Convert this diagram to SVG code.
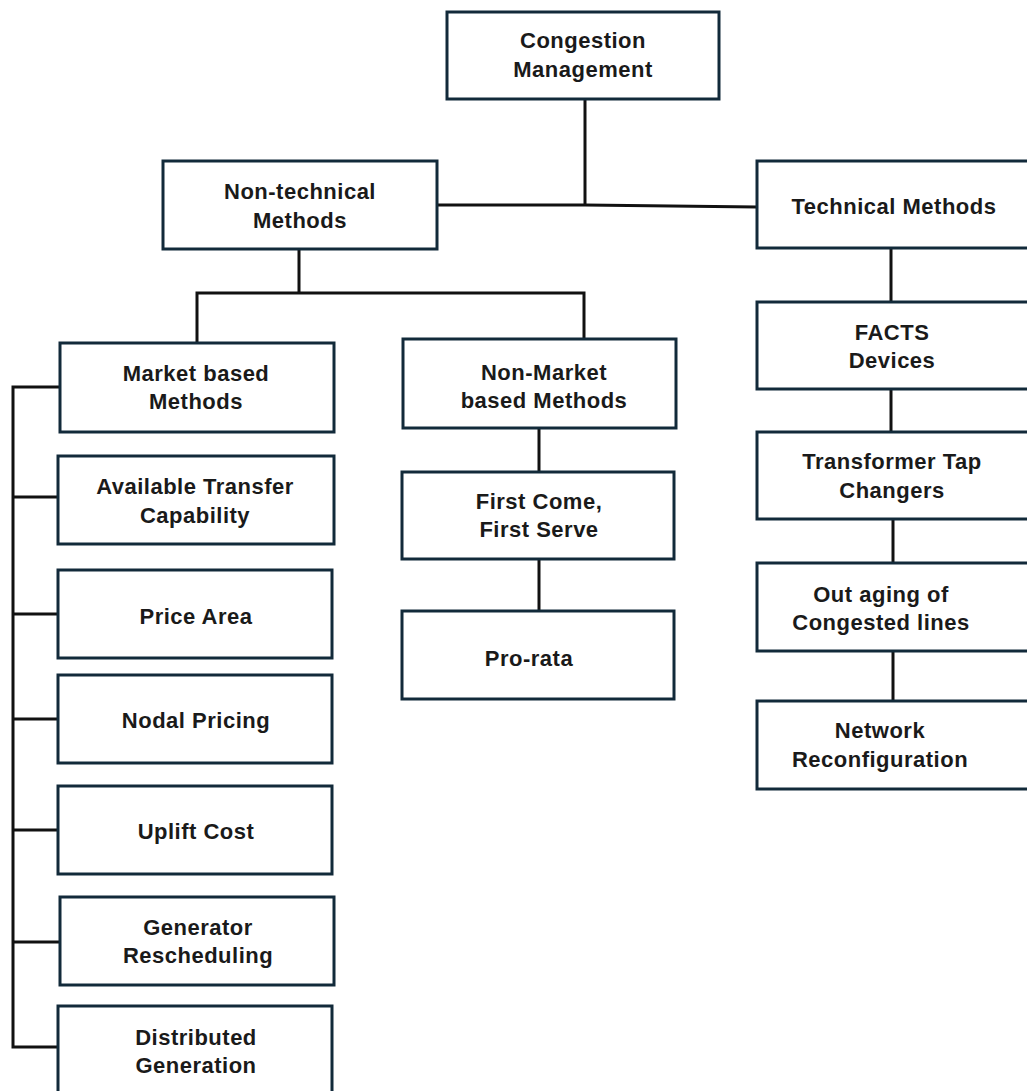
<svg xmlns="http://www.w3.org/2000/svg" width="1027" height="1091" viewBox="0 0 1027 1091">
  <style>
    .box { fill: #ffffff; stroke: #122a3a; stroke-width: 3; }
    .lbl { font-family: "Liberation Sans", Arial, sans-serif; font-weight: bold; font-size: 22px; letter-spacing: 0.5px; fill: #1a1a1a; text-anchor: middle; }
    .wire { fill: none; stroke: #111111; stroke-width: 3; stroke-linejoin: miter; }
  </style>
  <rect width="1027" height="1091" fill="#ffffff"/>

  <!-- connectors -->
  <g id="connectors" class="wire">
    <path d="M585,99 V205"/>
    <path d="M437,205 L585,205 L757,207"/>
    <path d="M299,249 V293 M197,343 V293 H584 V339"/>
    <path d="M539,428 V472"/>
    <path d="M539,559 V611"/>
    <path d="M891,248 V302"/>
    <path d="M891,389 V432"/>
    <path d="M893,519 V563"/>
    <path d="M893,651 V701"/>
    <path d="M60,387 H13 V1047 H58"/>
    <path d="M13,497 H58 M13,614 H58 M13,719 H58 M13,830 H58 M13,942 H60"/>
  </g>

  <!-- root -->
  <g id="congestion-management">
    <rect class="box" x="447" y="12" width="272" height="87"/>
    <text class="lbl" x="583" y="48">Congestion</text>
    <text class="lbl" x="583" y="77">Management</text>
  </g>

  <!-- main branches -->
  <g id="non-technical-methods">
    <rect class="box" x="163" y="161" width="274" height="88"/>
    <text class="lbl" x="300" y="199">Non-technical</text>
    <text class="lbl" x="300" y="228">Methods</text>
  </g>
  <g id="technical-methods">
    <rect class="box" x="757" y="161" width="290" height="87"/>
    <text class="lbl" x="894" y="214">Technical Methods</text>
  </g>

  <!-- non-technical sub branches -->
  <g id="market-based-methods">
    <rect class="box" x="60" y="343" width="274" height="89"/>
    <text class="lbl" x="196" y="381">Market based</text>
    <text class="lbl" x="196" y="409">Methods</text>
  </g>
  <g id="non-market-based-methods">
    <rect class="box" x="403" y="339" width="273" height="89"/>
    <text class="lbl" x="544" y="380">Non-Market</text>
    <text class="lbl" x="544" y="408">based Methods</text>
  </g>

  <!-- market based methods -->
  <g id="available-transfer-capability">
    <rect class="box" x="58" y="456" width="276" height="88"/>
    <text class="lbl" x="195" y="494">Available Transfer</text>
    <text class="lbl" x="195" y="523">Capability</text>
  </g>
  <g id="price-area">
    <rect class="box" x="58" y="570" width="274" height="88"/>
    <text class="lbl" x="196" y="624">Price Area</text>
  </g>
  <g id="nodal-pricing">
    <rect class="box" x="58" y="675" width="274" height="88"/>
    <text class="lbl" x="196" y="728">Nodal Pricing</text>
  </g>
  <g id="uplift-cost">
    <rect class="box" x="58" y="786" width="274" height="88"/>
    <text class="lbl" x="196" y="839">Uplift Cost</text>
  </g>
  <g id="generator-rescheduling">
    <rect class="box" x="60" y="897" width="274" height="88"/>
    <text class="lbl" x="198" y="935">Generator</text>
    <text class="lbl" x="198" y="963">Rescheduling</text>
  </g>
  <g id="distributed-generation">
    <rect class="box" x="58" y="1006" width="274" height="100"/>
    <text class="lbl" x="196" y="1045">Distributed</text>
    <text class="lbl" x="196" y="1073">Generation</text>
  </g>

  <!-- non-market based methods -->
  <g id="first-come-first-serve">
    <rect class="box" x="402" y="472" width="272" height="87"/>
    <text class="lbl" x="539" y="509">First Come,</text>
    <text class="lbl" x="539" y="537">First Serve</text>
  </g>
  <g id="pro-rata">
    <rect class="box" x="402" y="611" width="272" height="88"/>
    <text class="lbl" x="529" y="666">Pro-rata</text>
  </g>

  <!-- technical methods -->
  <g id="facts-devices">
    <rect class="box" x="757" y="302" width="290" height="87"/>
    <text class="lbl" x="892" y="340">FACTS</text>
    <text class="lbl" x="892" y="368">Devices</text>
  </g>
  <g id="transformer-tap-changers">
    <rect class="box" x="757" y="432" width="290" height="87"/>
    <text class="lbl" x="892" y="469">Transformer Tap</text>
    <text class="lbl" x="892" y="498">Changers</text>
  </g>
  <g id="outaging-congested-lines">
    <rect class="box" x="757" y="563" width="290" height="88"/>
    <text class="lbl" x="881" y="602">Out aging of</text>
    <text class="lbl" x="881" y="630">Congested lines</text>
  </g>
  <g id="network-reconfiguration">
    <rect class="box" x="757" y="701" width="290" height="88"/>
    <text class="lbl" x="880" y="738">Network</text>
    <text class="lbl" x="880" y="767">Reconfiguration</text>
  </g>
</svg>
